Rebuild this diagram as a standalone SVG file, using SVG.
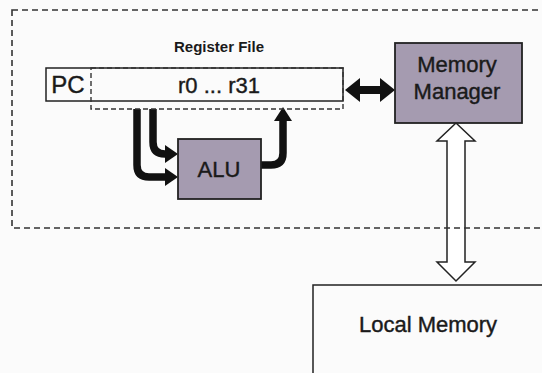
<svg xmlns="http://www.w3.org/2000/svg" width="542" height="373" viewBox="0 0 542 373">
<defs>
<style>
.box{fill:none;stroke:#222;stroke-width:1.5}
.shade{fill:#a59bb0;stroke:#222;stroke-width:1.8}
.dash{fill:none;stroke:#333;stroke-width:1.6;stroke-dasharray:6 4}
.thick{fill:none;stroke:#111;stroke-width:7.5}
.head{fill:#111}
.hollow{fill:#fff;stroke:#222;stroke-width:1.5}
text{font-family:"Liberation Sans",Arial,sans-serif;fill:#1a1a1a;text-anchor:middle}
.lbl{font-size:22px;stroke:#1a1a1a;stroke-width:0.4}
</style>
</defs>
<rect x="0" y="0" width="542" height="373" fill="#fbfbfb"/>
<g id="connectors">
  <path class="thick" d="M137,109 V165 Q137,177 149,177 H167"/>
  <polygon class="head" points="165,168 178,177 165,186"/>
  <path class="thick" d="M153,109 V142 Q153,154 165,154 H167"/>
  <polygon class="head" points="165,145 178,154 165,163"/>
  <path class="thick" d="M261,165 H271 Q283,165 283,153 V119"/>
  <polygon class="head" points="274,121 283,107 292,121"/>
  <rect x="357" y="86" width="26" height="8" fill="#111"/>
  <polygon class="head" points="345,90 360,78 360,102"/>
  <polygon class="head" points="395,90 380,78 380,102"/>
  <polygon class="hollow" points="456,123 475,141 465,141 465,262 475,262 456,281 437,262 447,262 447,141 437,141"/>
</g>
<rect class="dash" x="12" y="10" width="540" height="218"/>
<g id="register-file">
  <text x="219" y="52" font-size="15" font-weight="bold">Register File</text>
  <rect class="box" x="46" y="68" width="297" height="33" fill="#fff"/>
  <rect class="dash" x="91" y="68" width="252" height="41" style="stroke-dasharray:5 3;stroke-width:1.4"/>
  <text x="68" y="93" font-size="24" style="stroke:#1a1a1a;stroke-width:0.4">PC</text>
  <text x="219" y="93" class="lbl">r0 ... r31</text>
</g>
<g id="alu">
  <rect class="shade" x="178" y="139" width="83" height="60"/>
  <text x="219" y="177" class="lbl">ALU</text>
</g>
<g id="memory-manager">
  <rect class="shade" x="395" y="43" width="127" height="80"/>
  <text x="457" y="72" class="lbl">Memory</text>
  <text x="457" y="99" class="lbl">Manager</text>
</g>
<g id="local-memory">
  <rect class="box" x="313" y="285" width="240" height="100" fill="#fbfbfb"/>
  <text x="428" y="332" class="lbl">Local Memory</text>
</g>
</svg>
